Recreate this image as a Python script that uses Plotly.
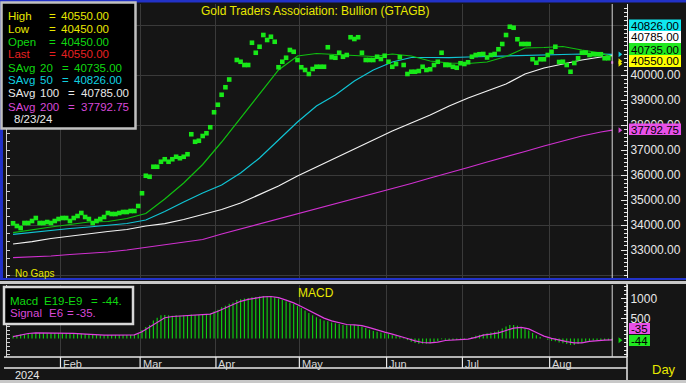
import plotly.graph_objects as go
import pandas as pd

W, H = 686, 383
def fx(p): return p / W
def fy(p): return 1 - p / H

# ---------------- data ----------------
dates = [d for d in pd.bdate_range("2024-01-15", "2024-08-23") if d != pd.Timestamp("2024-03-29")]

close = [34070, 33960, 33880, 34080, 34080, 34160, 34280, 34080, 34080, 34120,
         34080, 34160, 34240, 34280, 34280, 34160, 34280, 34360, 34480, 34320,
         34240, 34080, 34160, 34240, 34320, 34480, 34440, 34440, 34480, 34520,
         34520, 34560, 34560, 34760, 35270, 35970, 35930, 36330, 36330, 36530,
         36630, 36530, 36630, 36730, 36670, 36730, 36830, 37630, 37330, 37370,
         37560, 37670, 37910, 38510, 38810, 39210, 39510, 39820, None, 40600,
         40530, 40400, 40400, 41290, 40890, 41130, 41600, 41400, 41530, 41330,
         40310, 40530, 40690, 41000, 40930, 40600, 40310, 40200, 40040, 40240,
         40330, 40330, 40330, 41110, 40710, 40690, 40890, 40730, 40800, 41510,
         41440, 41510, 40890, 40600, 40600, 40600, 40730, 40640, 40770, 40530,
         40330, 40440, 40710, 40400, 40040, 40130, 40130, 40160, 40330, 40200,
         40230, 40400, 40530, 40890, 40400, 40400, 40330, 40290, 40470, 40440,
         40510, 40730, 40800, 40830, 40840, 40700, 40800, 40840, 41030, 41240,
         41600, 41930, 41890, 41430, 41240, 41240, 41240, 40630, 40490, 40630,
         40630, 40800, 40930, 41130, 40520, 40530, 40400, 40130, 40480, 40670,
         40890, 40890, 40800, 40830, 40830, 40830, 40670, 40670, 40550]
last_high, last_low, last_open = 40550, 40450, 40450

sma_idx = list(range(0, 159, 5)) + [158]
sma20 = [33692, 33820, 33920, 34020, 34120, 34140, 34260, 34460, 35040, 35680,
         36420, 37320, 38280, 39200, 40200, 40760, 40860, 40820, 40780, 40740,
         40840, 40760, 40560, 40480, 40460, 40520, 40740, 41080, 41100, 41140,
         41000, 40880, 40735]
sma50 = [33628, 33708, 33800, 33860, 33920, 33980, 34060, 34200, 34540, 34920,
         35280, 35600, 36080, 36680, 37400, 38120, 38760, 39200, 39760, 40200,
         40520, 40700, 40700, 40692, 40720, 40740, 40760, 40792, 40816, 40828,
         40840, 40832, 40826]
sma100 = [33240, 33332, 33460, 33560, 33640, 33740, 33820, 33960, 34052, 34220,
          34420, 34620, 34880, 35220, 35560, 35960, 36320, 36680, 37040, 37400,
          37760, 38080, 38400, 38760, 39080, 39360, 39640, 40040, 40280, 40440,
          40600, 40720, 40785]
sma200 = [32692, 32720, 32760, 32820, 32860, 32920, 33000, 33100, 33200, 33320,
          33420, 33640, 33840, 34040, 34240, 34440, 34640, 34840, 35040, 35240,
          35460, 35660, 35880, 36080, 36300, 36520, 36720, 36940, 37160, 37360,
          37560, 37720, 37792.75]

macd = [70, 90, 100, 110, 120, 130, 140, 140, 135, 130,
        130, 135, 135, 130, 130, 130, 125, 120, 120, 115,
        105, 90, 85, 80, 80, 85, 85, 85, 85, 85,
        90, 90, 95, 110, 210, 290, 340, 450, 520, 580,
        590, 580, 570, 580, 570, 575, 580, 600, 590, 590,
        590, 600, 620, 680, 720, 780, 820, 870, 900, 960,
        980, 1000, 1010, 1030, 1040, 1050, 1060, 1060, 1050, 1030,
        1000, 960, 930, 900, 860, 810, 760, 700, 640, 580,
        530, 490, 450, 430, 400, 380, 360, 340, 330, 340,
        340, 330, 300, 260, 220, 190, 170, 150, 130, 110,
        80, 60, 40, 10, -40, -80, -110, -130, -130, -130,
        -120, -100, -70, -20, -30, -40, -40, -40, -30, -20,
        0, 40, 70, 90, 110, 130, 150, 170, 200, 250,
        300, 340, 340, 320, 290, 250, 200, 140, 80, 40,
        0, -30, -60, -70, -100, -120, -140, -160, -160, -140,
        -110, -80, -60, -50, -45, -45, -45, -44, -44]
signal_idx = list(range(0, 159, 2))
signal = [45, 90, 125, 140, 140, 135, 130, 130, 128, 115,
          100, 88, 82, 82, 84, 86, 90, 170, 290, 420,
          520, 550, 560, 570, 580, 590, 610, 680, 770, 860,
          930, 980, 1010, 1040, 1050, 1020, 960, 890, 800, 700,
          600, 510, 440, 390, 350, 340, 320, 270, 210, 160,
          110, 60, 0, -60, -100, -110, -90, -50, -40, -35,
          -15, 30, 85, 110, 140, 200, 260, 280, 240, 150,
          60, 5, -40, -80, -110, -110, -70, -50, -40, -35]

price_ticks = [33000, 34000, 35000, 36000, 37000, 38000, 39000, 40000]
macd_ticks = [500, 1000]

# ---------------- styling ----------------
FONT = "Arial, Liberation Sans, sans-serif"
BG = "#151515"
GRID = "#3a3a3a"
YEL = "#e8e800"
GRN = "#10d810"
RED = "#e82020"
CYN = "#10d0e0"
WHT = "#e8e8e8"
MAG = "#d848d8"

n = len(dates)
slots = list(range(n))
month_pos = [i - 0.5 for i in range(1, n) if dates[i].month != dates[i - 1].month]
month_lbl = [dates[i].strftime("%b") for i in range(1, n) if dates[i].month != dates[i - 1].month]
XR = [-1.6, 161.9]
arrow_x = n + 1

fig = go.Figure()
for vals, col in [(sma200, "#d030d0"), (sma100, "#f2f2f2"), (sma50, "#10c4d4"), (sma20, "#10c010")]:
    fig.add_trace(go.Scatter(x=sma_idx, y=vals, mode="lines", line=dict(color=col, width=1.2),
                             xaxis="x", yaxis="y", hoverinfo="skip"))
fig.add_trace(go.Scatter(x=slots[:-1], y=close[:-1], mode="markers", xaxis="x", yaxis="y",
                         marker=dict(symbol="square", size=4.6, color="#18e818", line=dict(width=0))))
fig.add_trace(go.Scatter(x=[slots[-1], slots[-1]], y=[last_low, last_high], mode="lines",
                         line=dict(color="#e040e0", width=2), xaxis="x", yaxis="y"))
fig.add_trace(go.Scatter(x=[arrow_x] * 4, y=[sma50[-1], last_high, last_low, sma200[-1]], mode="markers",
                         marker=dict(symbol="triangle-right", size=5, color=[CYN, YEL, YEL, MAG]),
                         xaxis="x", yaxis="y", cliponaxis=False))
fig.add_trace(go.Scatter(x=[None], y=[None], xaxis="x", yaxis="y3"))

fig.add_trace(go.Bar(x=slots, y=macd, width=0.3, marker=dict(color="#10d010", line=dict(width=0)),
                     xaxis="x2", yaxis="y2"))
fig.add_trace(go.Scatter(x=signal_idx, y=signal, mode="lines", line=dict(color="#e040e0", width=1.2),
                         xaxis="x2", yaxis="y2"))
fig.add_trace(go.Scatter(x=[arrow_x], y=[macd[-1]], mode="markers",
                         marker=dict(symbol="triangle-right", size=5, color=GRN),
                         xaxis="x2", yaxis="y2", cliponaxis=False))
fig.add_trace(go.Scatter(x=[None], y=[None], xaxis="x2", yaxis="y4"))

xdom = [fx(7), fx(627)]
main_rng = [31880, 42840]
macd_rng = [-462.5, 1337.5]
tickc = "#d0d0d0"

fig.update_layout(
    width=W, height=H, margin=dict(l=0, r=0, t=0, b=0, autoexpand=False),
    paper_bgcolor=BG, plot_bgcolor=BG, showlegend=False, hovermode=False,
    xaxis=dict(domain=xdom, range=XR, anchor="y", tickvals=month_pos, showticklabels=False, ticks="",
               showgrid=True, gridcolor=GRID, zeroline=False, showline=False),
    xaxis2=dict(domain=xdom, range=XR, anchor="y2", tickvals=month_pos, showticklabels=False, ticks="",
                showgrid=True, gridcolor=GRID, zeroline=False, showline=False),
    yaxis=dict(domain=[fy(278), fy(4)], range=main_rng, tick0=0, dtick=2000, showgrid=True, gridcolor=GRID,
               showticklabels=False, ticks="inside", ticklen=3, tickcolor=tickc, showline=True,
               linecolor=tickc, zeroline=False,
               minor=dict(tick0=0, dtick=1000 / 3, ticks="inside", ticklen=3, tickcolor=tickc, showgrid=False)),
    yaxis3=dict(overlaying="y", side="right", anchor="x", range=main_rng, tickvals=price_ticks,
                ticktext=[f"{v:.2f}" for v in price_ticks], ticks="inside", ticklen=6, tickcolor=WHT,
                showline=True, linecolor=WHT, showgrid=False, zeroline=False,
                tickfont=dict(family=FONT, size=12, color=WHT),
                minor=dict(tick0=0, dtick=1000 / 6, ticks="inside", ticklen=3, tickcolor=WHT, showgrid=False)),
    yaxis2=dict(domain=[fy(357), fy(285)], range=macd_rng, anchor="x2", side="right", tickvals=macd_ticks,
                ticktext=[str(v) for v in macd_ticks], ticks="inside", ticklen=6, tickcolor=WHT,
                showline=True, linecolor=WHT, showgrid=False, zeroline=False,
                tickfont=dict(family=FONT, size=12, color=WHT),
                minor=dict(tick0=0, dtick=100, ticks="inside", ticklen=3, tickcolor=WHT, showgrid=False)),
    yaxis4=dict(overlaying="y2", side="left", anchor="x2", range=macd_rng, showticklabels=False,
                ticks="inside", ticklen=3, tickcolor=tickc, showline=True, linecolor=tickc, showgrid=False,
                zeroline=False, tick0=0, dtick=100),
)

shapes = []
def rect(x0, y0, x1, y1, fill=None, line=None, lw=0):
    shapes.append(dict(type="rect", xref="paper", yref="paper", x0=fx(x0), x1=fx(x1), y0=fy(y1), y1=fy(y0),
                       fillcolor=fill if fill else "rgba(0,0,0,0)",
                       line=dict(color=line if line else "rgba(0,0,0,0)", width=lw), layer="above"))
def hline(y, x0, x1, col, w=1):
    shapes.append(dict(type="line", xref="paper", yref="paper", x0=fx(x0), x1=fx(x1), y0=fy(y), y1=fy(y),
                       line=dict(color=col, width=w), layer="above"))

# frame
rect(0, 0, 686, 2.5, fill="#2232c8")
rect(0, 0, 3, 279, fill="#2232c8")
hline(279, 0, 686, "#2232c8", 2)
rect(0, 281, 686, 284, fill="#c8c8c8")
hline(357, 4, 627, WHT, 1.5)
hline(368, 4, 627, WHT, 1.5)
rect(0, 380, 686, 383, fill="#c8c8c8")
shapes.append(dict(type="line", xref="paper", yref="paper", x0=fx(627), x1=fx(627), y0=fy(380), y1=fy(284),
                   line=dict(color=WHT, width=1.5), layer="above"))
# last bar marker lines
shapes.append(dict(type="line", xref="x", yref="paper", x0=slots[-1], x1=slots[-1], y0=fy(278), y1=fy(4),
                   line=dict(color="#d8d8d8", width=1), layer="above"))
shapes.append(dict(type="line", xref="x2", yref="paper", x0=slots[-1], x1=slots[-1], y0=fy(357), y1=fy(285),
                   line=dict(color="#d8d8d8", width=1), layer="above"))
# month separators in date row
for mp in month_pos:
    shapes.append(dict(type="line", xref="x", yref="paper", x0=mp, x1=mp, y0=fy(368), y1=fy(357),
                       line=dict(color=WHT, width=1.2), layer="above"))

# legend boxes
rect(1.5, 2.5, 135.5, 128.5, fill="#000000", line="#c0c0c0", lw=2.5)
rect(4, 287, 133, 324, fill="#000000", line="#d8d8d8", lw=2.5)

# right value boxes
vbox = [(19.5, 31, "#10e8f0", sma50[-1]), (31, 43, "#ffffff", sma100[-1]), (43, 55, "#20e820", sma20[-1]),
        (55, 67, "#ffff00", close[-1]), (123.5, 135, "#e850e8", sma200[-1])]
for t, b, c, v in vbox:
    rect(629, t, 681, b, fill=c)
mbox = [(323, 334, "#e850e8", signal[-1]), (335, 346, "#20e820", macd[-1])]
for t, b, c, v in mbox:
    rect(629, t, 650, b, fill=c)

ann = []
def txt(x, y, s, color, size=12, xanchor="left"):
    ann.append(dict(xref="paper", yref="paper", x=fx(x), y=fy(y), text=s, showarrow=False,
                    xanchor=xanchor, yanchor="middle", borderpad=0, font=dict(family=FONT, size=size, color=color)))

for t, b, c, v in vbox:
    txt(629.5, (t + b) / 2 + 0.5, f"{v:.2f}", "#000000", 11.5)
for t, b, c, v in mbox:
    txt(629.5, (t + b) / 2 + 0.5, f"{v:.0f}", "#000000", 11.5)

LF = 11.5
rows = [("High", "", 48, 60, last_high, YEL, 15.7),
        ("Low", "", 48, 60, last_low, YEL, 28.7),
        ("Open", "", 48, 60, last_open, GRN, 41.7),
        ("Last", "", 48, 60, close[-1], RED, 54.3),
        ("SAvg", "20", 61, 73, sma20[-1], GRN, 67.7),
        ("SAvg", "50", 61, 73, sma50[-1], CYN, 80.3),
        ("SAvg", "100", 67, 80, sma100[-1], WHT, 93.3),
        ("SAvg", "200", 67, 80, sma200[-1], MAG, 106.7)]
for lab, num, xe, xv, v, c, y in rows:
    txt(7, y, lab, c, LF)
    if num:
        txt(39, y, num, c, LF)
    txt(xe, y, "=", c, LF)
    txt(xv, y, f"{v:.2f}", c, LF)
txt(13, 119.3, dates[-1].strftime("%-m/%-d/%y"), WHT, LF)

txt(9, 300.7, "Macd", GRN, LF)
txt(43, 300.7, "E19-E9", GRN, LF)
txt(90, 300.7, "=", GRN, LF)
txt(101, 300.7, f"{macd[-1]:.0f}.", GRN, LF)
txt(9, 313, "Signal", MAG, LF)
txt(48, 313, "E6", MAG, LF)
txt(66, 313, "=", MAG, LF)
txt(75, 313, f"{signal[-1]:.0f}.", MAG, LF)

txt(315.5, 11, "Gold Traders Association: Bullion (GTAGB)", YEL, 12, "center")
txt(316, 293, "MACD", YEL, 12, "center")
txt(14, 273.5, "No Gaps", YEL, 10)
txt(651, 369, "Day", YEL, 13)
txt(14, 375, "2024", WHT, 11)
for mp, ml in zip(month_pos, month_lbl):
    ann.append(dict(xref="x", yref="paper", x=mp, y=fy(363.5), text=ml, showarrow=False, xanchor="left",
                    yanchor="middle", xshift=0.5, font=dict(family=FONT, size=11, color="#d8d8d8")))

fig.update_layout(shapes=shapes, annotations=ann)
fig.write_html("out.html", config={"displayModeBar": False, "staticPlot": True},
               post_script="document.body.style.margin='0px';document.body.style.padding='0px';"
                           "document.body.style.overflow='hidden';")
